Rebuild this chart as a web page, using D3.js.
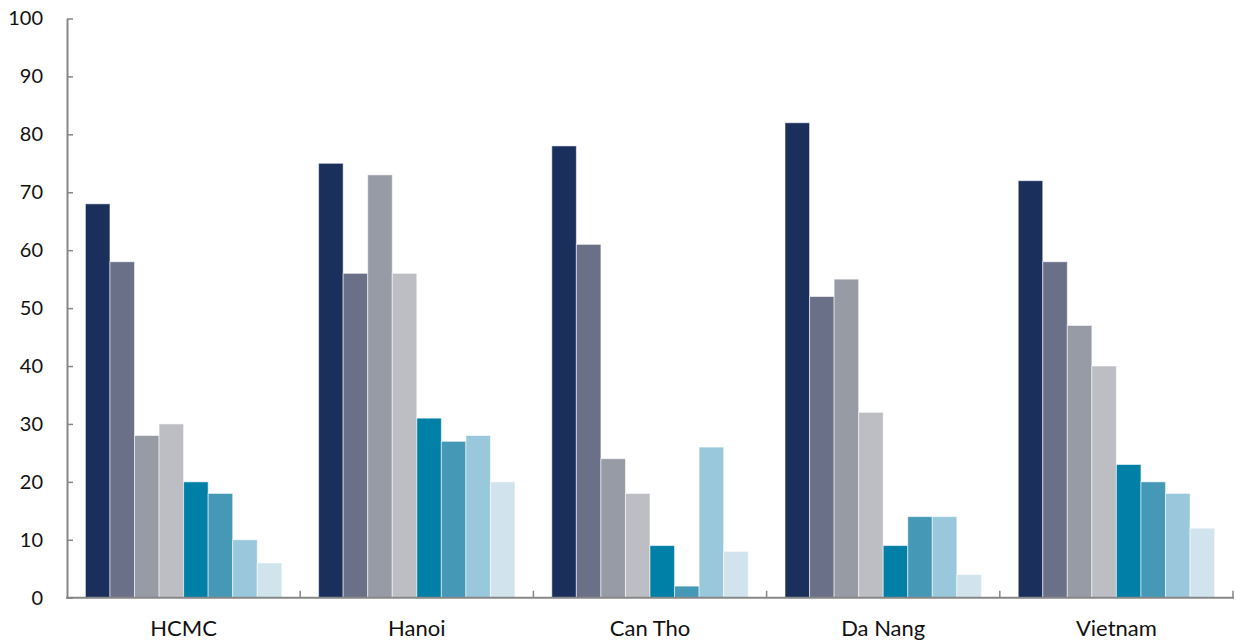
<!DOCTYPE html>
<html>
<head>
<meta charset="utf-8">
<script src="https://cdn.jsdelivr.net/npm/d3@7"></script>
<style>
  html, body { margin: 0; padding: 0; background: #fff; }
  svg { display: block; }
  text { font-family: "Lato", "Open Sans", sans-serif; fill: #111; }
</style>
</head>
<body>
<svg id="chart" width="1236" height="641"></svg>
<script>
// Categories (x groups)
const categories = ["HCMC", "Hanoi", "Can Tho", "Da Nang", "Vietnam"];

// Eight series, one value per category
const series1 = [68, 75, 78, 82, 72];
const series2 = [58, 56, 61, 52, 58];
const series3 = [28, 73, 24, 55, 47];
const series4 = [30, 56, 18, 32, 40];
const series5 = [20, 31, 9, 9, 23];
const series6 = [18, 27, 2, 14, 20];
const series7 = [10, 28, 26, 14, 18];
const series8 = [6, 20, 8, 4, 12];

const seriesNames = ["s1", "s2", "s3", "s4", "s5", "s6", "s7", "s8"];
const seriesValues = [series1, series2, series3, series4, series5, series6, series7, series8];

// Y-axis tick values
const yTicks = [0, 10, 20, 30, 40, 50, 60, 70, 80, 90, 100];

const colors = ["#1a2f5c", "#6b7089", "#979ba6", "#bdbec4",
                "#0080a6", "#4599b7", "#99c7dc", "#d1e3ec"];

const svg = d3.select("#chart");
const plotLeft = 67, plotRight = 1233, plotTop = 18.5, plotBottom = 597.7;

const x0 = d3.scaleBand().domain(categories).range([plotLeft, plotRight]).paddingInner(0).paddingOuter(0);
// 8 bars + 1.5 bar widths of gap per group
const x1 = d3.scaleBand().domain(seriesNames).range([0, x0.bandwidth()])
  .paddingInner(0).paddingOuter(0.75);
const y = d3.scaleLinear().domain([0, 100]).range([plotBottom, plotTop]);
const color = d3.scaleOrdinal().domain(seriesNames).range(colors);

// Bars
const groups = svg.append("g").selectAll("g")
  .data(categories)
  .join("g")
  .attr("transform", c => `translate(${x0(c)},0)`);

groups.selectAll("rect")
  .data((c, i) => seriesNames.map((s, k) => ({ s, v: seriesValues[k][i] })))
  .join("rect")
  .attr("x", d => x1(d.s))
  .attr("y", d => y(d.v))
  .attr("width", x1.bandwidth())
  .attr("height", d => y(0) - y(d.v))
  .attr("fill", d => color(d.s))
  .attr("stroke", "rgba(255,255,255,0.55)")
  .attr("stroke-width", 1);

const axisColor = "#878787";

// Y axis
const yAxis = svg.append("g")
  .attr("transform", `translate(${plotLeft},0)`)
  .call(d3.axisLeft(y).tickValues(yTicks).tickSizeInner(-6).tickSizeOuter(0).tickPadding(24));
yAxis.select(".domain").attr("stroke", axisColor).attr("stroke-width", 2);
yAxis.selectAll(".tick line").attr("stroke", axisColor).attr("stroke-width", 1.5);
yAxis.selectAll(".tick text")
  .attr("font-size", 20)
  .attr("font-family", "Lato, 'Open Sans', sans-serif")
  .attr("fill", "#111");

// X axis: line plus category boundary ticks pointing up
const xAxis = svg.append("g")
  .attr("transform", `translate(0,${plotBottom})`);
xAxis.append("line")
  .attr("x1", plotLeft - 1).attr("x2", plotRight + 1)
  .attr("stroke", axisColor).attr("stroke-width", 2);
const boundaries = categories.slice(1).map(c => x0(c)).concat([plotRight]);
xAxis.selectAll("line.bt")
  .data(boundaries)
  .join("line")
  .attr("class", "bt")
  .attr("x1", d => d).attr("x2", d => d)
  .attr("y1", 0).attr("y2", -7)
  .attr("stroke", axisColor).attr("stroke-width", 1.5);
xAxis.selectAll("text")
  .data(categories)
  .join("text")
  .attr("x", c => x0(c) + x0.bandwidth() / 2)
  .attr("y", 38)
  .attr("text-anchor", "middle")
  .attr("font-size", 22)
  .text(c => c);
</script>
</body>
</html>
